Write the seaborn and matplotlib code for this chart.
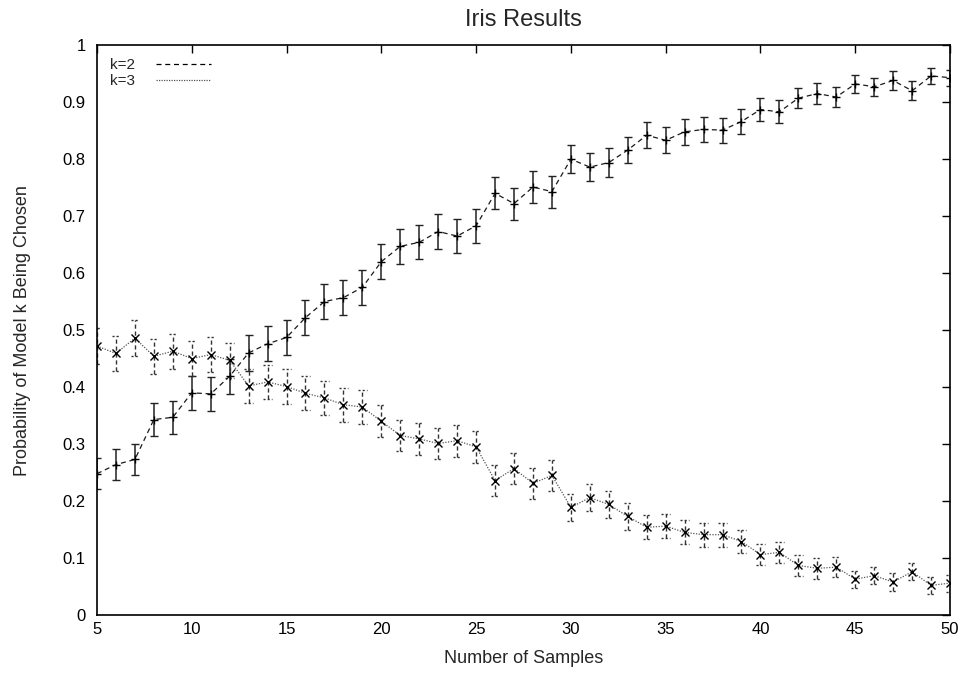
import matplotlib
matplotlib.use("Agg")
import matplotlib.pyplot as plt
from matplotlib.lines import Line2D
import seaborn as sns
import pandas as pd
import numpy as np

samples = list(range(5, 51))

k2_prob = [0.248, 0.264, 0.273, 0.343, 0.347, 0.390, 0.388, 0.419, 0.460, 0.476,
           0.487, 0.522, 0.550, 0.557, 0.575, 0.620, 0.647, 0.654, 0.673, 0.665,
           0.683, 0.740, 0.722, 0.751, 0.743, 0.800, 0.786, 0.794, 0.816, 0.842,
           0.833, 0.848, 0.852, 0.851, 0.866, 0.887, 0.883, 0.907, 0.915, 0.909,
           0.932, 0.927, 0.938, 0.920, 0.946, 0.943]
k2_err = [0.027, 0.027, 0.027, 0.029, 0.029, 0.030, 0.030, 0.031, 0.031, 0.031,
          0.031, 0.031, 0.031, 0.031, 0.031, 0.031, 0.031, 0.030, 0.030, 0.030,
          0.030, 0.028, 0.028, 0.028, 0.028, 0.025, 0.025, 0.025, 0.023, 0.023,
          0.023, 0.023, 0.022, 0.022, 0.022, 0.020, 0.020, 0.018, 0.018, 0.018,
          0.016, 0.016, 0.016, 0.017, 0.014, 0.014]

k3_prob = [0.472, 0.459, 0.486, 0.454, 0.463, 0.450, 0.457, 0.447, 0.402, 0.409,
           0.401, 0.389, 0.381, 0.369, 0.365, 0.340, 0.315, 0.309, 0.301, 0.306,
           0.295, 0.236, 0.257, 0.231, 0.245, 0.189, 0.206, 0.194, 0.173, 0.154,
           0.156, 0.145, 0.141, 0.141, 0.129, 0.106, 0.110, 0.087, 0.082, 0.084,
           0.063, 0.069, 0.058, 0.076, 0.052, 0.056]
k3_err = [0.031, 0.031, 0.031, 0.031, 0.031, 0.031, 0.031, 0.031, 0.030, 0.030,
          0.030, 0.030, 0.030, 0.030, 0.030, 0.028, 0.028, 0.028, 0.028, 0.028,
          0.028, 0.027, 0.027, 0.027, 0.027, 0.024, 0.024, 0.024, 0.024, 0.021,
          0.021, 0.021, 0.021, 0.021, 0.021, 0.018, 0.018, 0.018, 0.018, 0.018,
          0.015, 0.015, 0.015, 0.015, 0.015, 0.015]

series_labels = ["k=2", "k=3"]
x_ticks = [5, 10, 15, 20, 25, 30, 35, 40, 45, 50]
y_ticks = [0, 0.1, 0.2, 0.3, 0.4, 0.5, 0.6, 0.7, 0.8, 0.9, 1]
y_tick_labels = ["0", "0.1", "0.2", "0.3", "0.4", "0.5", "0.6", "0.7", "0.8", "0.9", "1"]

sns.set_style("white")
plt.rcParams["font.family"] = ["Liberation Sans", "DejaVu Sans"]
plt.rcParams["font.size"] = 12

fig = plt.figure(figsize=(9.63, 6.74), dpi=100)
ax = fig.add_axes([0.1007, 0.0875, 0.8858, 0.8455])

df2 = pd.DataFrame({"x": samples, "y": k2_prob})
df3 = pd.DataFrame({"x": samples, "y": k3_prob})

sns.lineplot(data=df2, x="x", y="y", ax=ax, color="#1a1a1a", linewidth=0.9,
             linestyle=(0, (4, 3)), marker="+", markersize=6, markeredgewidth=1.0,
             markeredgecolor="black", errorbar=None, zorder=3)
sns.lineplot(data=df3, x="x", y="y", ax=ax, color="#555555", linewidth=0.9,
             linestyle=(0, (1, 1.2)), marker="x", markersize=6, markeredgewidth=1.0,
             markeredgecolor="black", errorbar=None, zorder=3)

# k=2 error bars: solid
ax.errorbar(samples, k2_prob, yerr=k2_err, fmt="none", ecolor="#222222",
            elinewidth=1.1, capsize=3, capthick=1.0, zorder=2)

# k=3 error bars: dashed, with dashed caps
eb3 = ax.errorbar(samples, k3_prob, yerr=k3_err, fmt="none", ecolor="#333333",
                  elinewidth=1.0, capsize=0, zorder=2)
for c in eb3.lines[2]:
    c.set_linestyle((0, (3, 2)))
xs = np.array(samples, dtype=float)
p3 = np.array(k3_prob)
e3 = np.array(k3_err)
half_cap = 0.22
for yy in (p3 + e3, p3 - e3):
    ax.hlines(yy, xs - half_cap, xs + half_cap, colors="#333333", linewidth=1.0,
              linestyles=(0, (1.5, 1.5)), zorder=2)

ax.set_xlim(5, 50)
ax.set_ylim(0, 1)
ax.set_xticks(x_ticks)
ax.set_yticks(y_ticks)
ax.set_yticklabels(y_tick_labels)
ax.tick_params(axis="both", direction="in", length=6, width=1, top=True, right=True,
               labelsize=12, colors="black")
ax.tick_params(axis="y", pad=8)
ax.tick_params(axis="x", pad=5)
for s in ax.spines.values():
    s.set_visible(True)
    s.set_color("black")
    s.set_linewidth(1.2)

ax.set_title("Iris Results", fontsize=17, pad=14)
ax.set_xlabel("Number of Samples", fontsize=13)
ax.set_ylabel("Probability of Model k Being Chosen", fontsize=13)
ax.xaxis.set_label_coords(0.5, -0.062)
ax.yaxis.set_label_coords(-0.077, 0.5)

handles = [Line2D([], [], color="black", linewidth=0.9, linestyle=(0, (4, 3))),
           Line2D([], [], color="#555555", linewidth=0.9, linestyle=(0, (1, 1)))]
ax.legend(handles, series_labels, loc="upper left", frameon=False, markerfirst=False,
          handlelength=3.6, handletextpad=1.4, fontsize=11, labelspacing=0.15,
          borderaxespad=0.45, borderpad=0.4)

fig.savefig("out.png", dpi=100)
